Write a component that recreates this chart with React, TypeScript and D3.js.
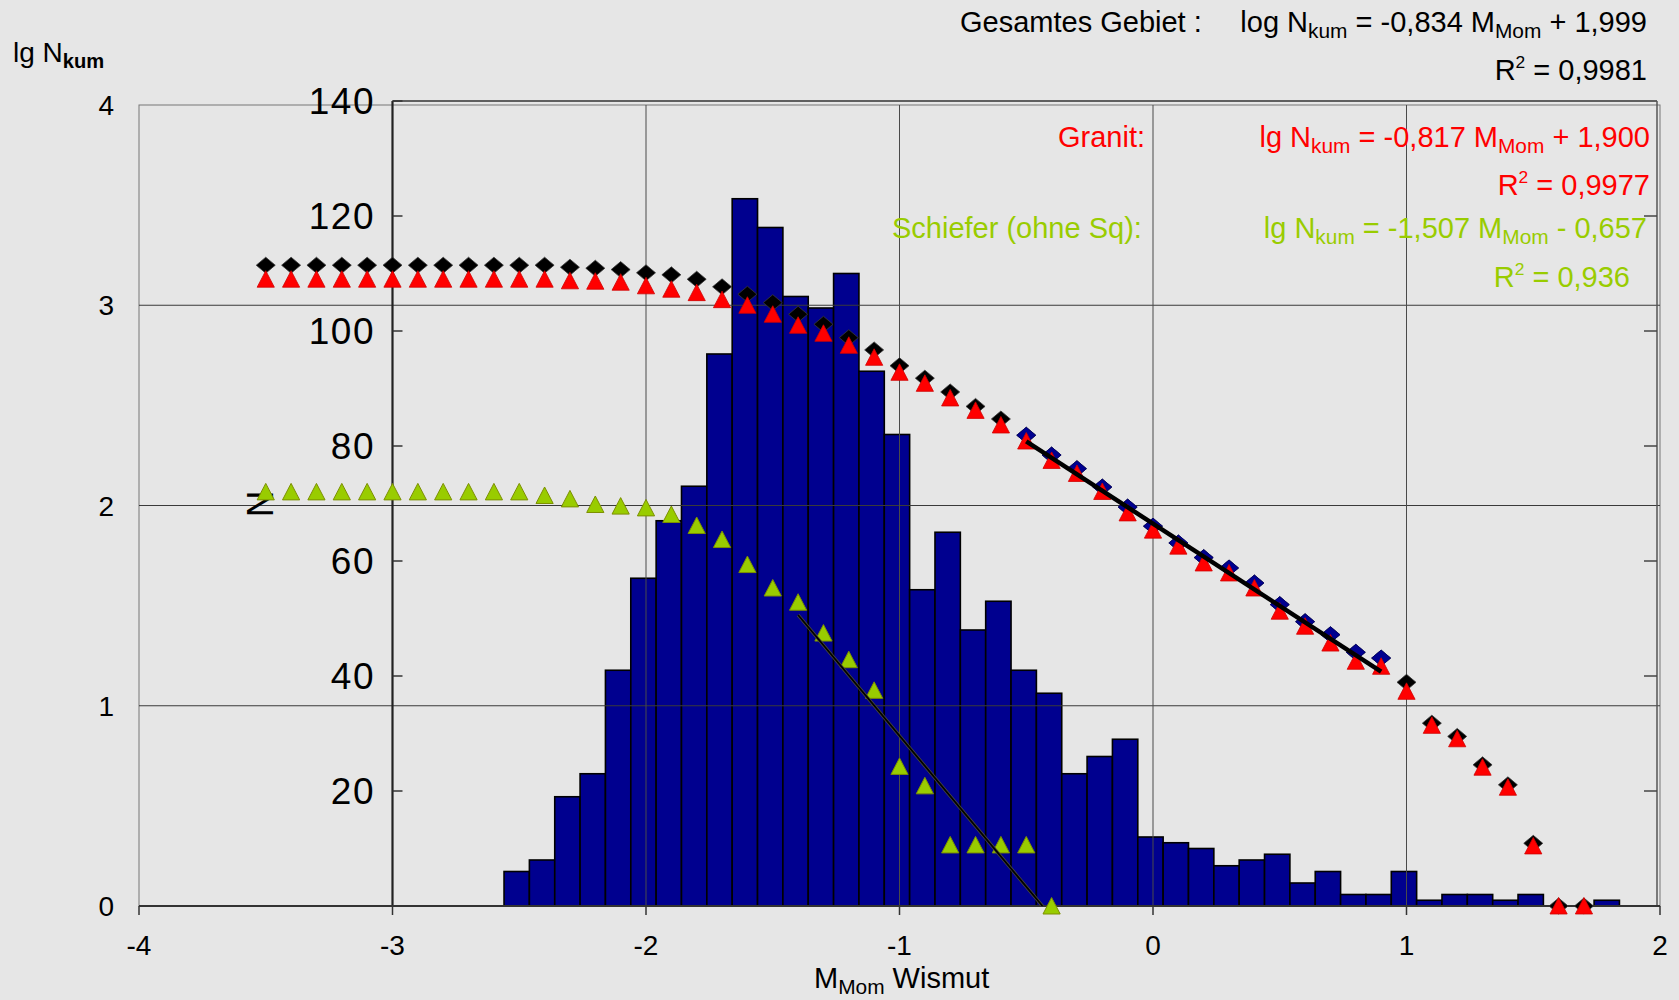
// Magnitude-frequency plot, Wismut: cumulative lg N (outer axis) over a histogram of N (inner axis)

import { useEffect, useRef } from "react";
import * as d3 from "d3";

const W = 1679;
const H = 1000;
const FONT = "'Liberation Sans', Arial, Helvetica, sans-serif";

// magnitude classes of the cumulative series
const magnitudes = [
  -3.5, -3.4, -3.3, -3.2, -3.1, -3.0, -2.9, -2.8, -2.7, -2.6, -2.5, -2.4, -2.3, -2.2, -2.1, -2.0, -1.9, -1.8,
  -1.7, -1.6, -1.5, -1.4, -1.3, -1.2, -1.1, -1.0, -0.9, -0.8, -0.7, -0.6, -0.5, -0.4, -0.3, -0.2, -0.1, 0.0,
  0.1, 0.2, 0.3, 0.4, 0.5, 0.6, 0.7, 0.8, 0.9, 1.0, 1.1, 1.2, 1.3, 1.4, 1.5, 1.6, 1.7,
];

// Gesamtes Gebiet (black diamonds)
const gesamtLg = [
  3.2, 3.2, 3.2, 3.2, 3.2, 3.2, 3.2, 3.2, 3.2, 3.2, 3.2,
  3.2, 3.19, 3.185, 3.178, 3.162, 3.152, 3.13, 3.092, 3.055, 3.013, 2.955, 2.905, 2.838, 2.777, 2.698,
  2.636, 2.567, 2.495, 2.432, 2.351, 2.252, 2.184, 2.092, 1.992,
  1.897, 1.813, 1.74, 1.688, 1.613, 1.505, 1.42, 1.355, 1.267, 1.238, 1.117, 0.913, 0.847, 0.705, 0.605,
  0.313, 0, 0,
];

// Granit (red triangles)
const granitLg = [
  3.13, 3.13, 3.13, 3.13, 3.13, 3.13, 3.13, 3.13, 3.13, 3.13, 3.13,
  3.13, 3.122, 3.12, 3.115, 3.097, 3.08, 3.063, 3.028, 3.0, 2.955, 2.9, 2.86, 2.8, 2.74, 2.665,
  2.61, 2.537, 2.475, 2.402, 2.322, 2.225, 2.16, 2.07, 1.963,
  1.877, 1.797, 1.713, 1.663, 1.588, 1.472, 1.397, 1.313, 1.222, 1.197, 1.072, 0.902, 0.835, 0.693, 0.593,
  0.3, 0, 0,
];

// Schiefer ohne Sq (green triangles)
const schieferMag = [
  -3.5, -3.4, -3.3, -3.2, -3.1, -3.0, -2.9, -2.8, -2.7, -2.6, -2.5, -2.4, -2.3, -2.2, -2.1, -2.0,
  -1.9, -1.8, -1.7, -1.6, -1.5, -1.4, -1.3, -1.2, -1.1, -1.0, -0.9, -0.8, -0.7, -0.6, -0.5, -0.4,
];
const schieferLg = [
  2.068, 2.068, 2.068, 2.068, 2.068, 2.068, 2.068, 2.068, 2.068, 2.068, 2.068,
  2.05, 2.033, 2.005, 1.997, 1.988, 1.955, 1.9, 1.83, 1.705, 1.588,
  1.517, 1.363, 1.23, 1.077, 0.697, 0.6, 0.305, 0.305, 0.305, 0.305, 0,
];

// range used for the regression of the whole area (blue diamonds)
const gesamtFitRange = [-0.5, 0.9];

// regression lines (end points)
const gesamtFitX = [-0.5, 0.9];
const gesamtFitY = [2.32, 1.17];
const schieferFitX = [-1.4, -0.436];
const schieferFitY = [1.453, 0];

// histogram of event counts per 0.1 magnitude class
const HIST_START = -2.56;
const HIST_BIN = 0.1;
const histCounts = [
  6, 8, 19, 23, 41, 57, 67, 73, 96, 123, 118, 106, 104, 110, 93, 82, 55, 65, 48, 53, 41, 37,
  23, 26, 29, 12, 11, 10, 7, 8, 9, 4, 6, 2, 2, 6, 1, 2, 2, 1, 2, 0, 0, 1,
];

const lgTicks = [0, 1, 2, 3, 4];
const nTicks = [20, 40, 60, 80, 100, 120, 140];
const magTicks = [-4, -3, -2, -1, 0, 1, 2];

type Part = [string, "n" | "sub" | "sup"];

export default function App() {
  const svgRef = useRef<SVGSVGElement>(null);

  useEffect(() => {
    if (!svgRef.current) return;
    const svg = d3.select(svgRef.current);
    svg.selectAll("*").remove();

    svg.append("rect").attr("width", W).attr("height", H).attr("fill", "#e6e6e6");

    const x = d3.scaleLinear().domain([-4, 2]).range([139, 1660]);
    const yLg = d3.scaleLinear().domain([0, 4]).range([906, 105]);
    const yN = d3.scaleLinear().domain([0, 140]).range([906, 101]);

    // outer frame
    svg.append("rect")
      .attr("x", x(-4)).attr("y", yLg(4))
      .attr("width", x(2) - x(-4)).attr("height", yLg(0) - yLg(4))
      .attr("fill", "none").attr("stroke", "#777").attr("stroke-width", 1);

    // histogram
    svg.append("g")
      .selectAll("rect")
      .data(histCounts)
      .join("rect")
      .attr("x", (_, i) => x(HIST_START + i * HIST_BIN))
      .attr("width", x(HIST_BIN) - x(0))
      .attr("y", (d) => yN(d))
      .attr("height", (d) => yN(0) - yN(d))
      .attr("fill", "#00008f")
      .attr("stroke", "#000")
      .attr("stroke-width", 1.6);

    // grid of the lg chart
    const grid = svg.append("g");
    [1, 2, 3].forEach((v) => {
      grid.append("line")
        .attr("x1", x(-4)).attr("x2", x(2)).attr("y1", yLg(v)).attr("y2", yLg(v))
        .attr("stroke", "#3a3a3a").attr("stroke-width", 1.2);
    });
    [-2, -1, 0, 1].forEach((v) => {
      grid.append("line")
        .attr("x1", x(v)).attr("x2", x(v)).attr("y1", yLg(4)).attr("y2", yLg(0))
        .attr("stroke", "#4a4a4a").attr("stroke-width", 1);
    });

    // inner (histogram) frame and ticks
    const inner = svg.append("g");
    const innerRight = 1657;
    inner.append("line")
      .attr("x1", x(-3)).attr("x2", x(-3)).attr("y1", yN(140)).attr("y2", yN(0))
      .attr("stroke", "#222").attr("stroke-width", 2.2);
    inner.append("line")
      .attr("x1", x(-3)).attr("x2", innerRight).attr("y1", yN(140)).attr("y2", yN(140))
      .attr("stroke", "#333").attr("stroke-width", 1.5);
    inner.append("line")
      .attr("x1", innerRight).attr("x2", innerRight).attr("y1", yN(140)).attr("y2", yN(0))
      .attr("stroke", "#555").attr("stroke-width", 1.5);
    nTicks.forEach((v) => {
      inner.append("line")
        .attr("x1", x(-3)).attr("x2", x(-3) + 10).attr("y1", yN(v)).attr("y2", yN(v))
        .attr("stroke", "#333").attr("stroke-width", 1.5);
      if (v < 140) {
        inner.append("line")
          .attr("x1", innerRight - 13).attr("x2", innerRight).attr("y1", yN(v)).attr("y2", yN(v))
          .attr("stroke", "#444").attr("stroke-width", 1.5);
      }
      inner.append("text")
        .attr("x", 375).attr("y", yN(v)).attr("dy", "0.36em")
        .attr("text-anchor", "end")
        .style("font-family", FONT).style("font-size", "37px").style("letter-spacing", "1.5px")
        .attr("fill", "#000")
        .text(v);
    });
    inner.append("text")
      .attr("transform", `translate(260,504) rotate(-90)`)
      .attr("text-anchor", "middle").attr("dy", "0.36em")
      .style("font-family", FONT).style("font-size", "37px")
      .text("N");

    // x axis
    const xAxis = svg.append("g");
    xAxis.append("line")
      .attr("x1", x(-4)).attr("x2", x(2)).attr("y1", yLg(0)).attr("y2", yLg(0))
      .attr("stroke", "#333").attr("stroke-width", 2);
    magTicks.forEach((v) => {
      xAxis.append("line")
        .attr("x1", x(v)).attr("x2", x(v)).attr("y1", yLg(0)).attr("y2", yLg(0) + 9)
        .attr("stroke", "#333").attr("stroke-width", 1.5);
      xAxis.append("text")
        .attr("x", x(v)).attr("y", 955)
        .attr("text-anchor", "middle")
        .style("font-family", FONT).style("font-size", "28px")
        .text(v);
    });

    // lg axis labels
    lgTicks.forEach((v) => {
      svg.append("text")
        .attr("x", 114).attr("y", yLg(v)).attr("dy", "0.36em")
        .attr("text-anchor", "end")
        .style("font-family", FONT).style("font-size", "28px")
        .text(v);
    });

    // markers
    const diamond = "M0,-8L9.5,0L0,8L-9.5,0Z";
    const triangle = "M0,-8.5L8.6,8L-8.6,8Z";

    const marks = svg.append("g");
    marks.selectAll("path.schiefer")
      .data(schieferMag)
      .join("path")
      .attr("class", "schiefer")
      .attr("d", triangle)
      .attr("transform", (d, i) => `translate(${x(d)},${yLg(schieferLg[i])})`)
      .attr("fill", "#99cc00").attr("stroke", "#7c8f00").attr("stroke-width", 1);

    marks.selectAll("path.gesamt")
      .data(magnitudes)
      .join("path")
      .attr("class", "gesamt")
      .attr("d", diamond)
      .attr("transform", (d, i) => `translate(${x(d)},${yLg(gesamtLg[i])})`)
      .attr("fill", "#000").attr("stroke", "#3a3a3a").attr("stroke-width", 0.8);

    const inFit = (m: number) => m >= gesamtFitRange[0] - 1e-9 && m <= gesamtFitRange[1] + 1e-9;
    marks.selectAll("path.fit")
      .data(magnitudes.map((m, i) => [m, gesamtLg[i]]).filter(([m]) => inFit(m)))
      .join("path")
      .attr("class", "fit")
      .attr("d", diamond)
      .attr("transform", (d) => `translate(${x(d[0])},${yLg(d[1])})`)
      .attr("fill", "#000090").attr("stroke", "#00006a").attr("stroke-width", 0.8);

    marks.selectAll("path.granit")
      .data(magnitudes)
      .join("path")
      .attr("class", "granit")
      .attr("d", triangle)
      .attr("transform", (d, i) => `translate(${x(d)},${yLg(granitLg[i])})`)
      .attr("fill", "#ff0000").attr("stroke", "#d00000").attr("stroke-width", 0.8);

    // regression lines
    const seg = (xs: number[], ys: number[]) =>
      d3.line<number>().x((d) => x(d)).y((_, i) => yLg(ys[i]))(xs) || "";
    svg.append("path").attr("d", seg(schieferFitX, schieferFitY))
      .attr("fill", "none").attr("stroke", "#4f4f3a").attr("stroke-width", 3.2);
    svg.append("path").attr("d", seg(schieferFitX, schieferFitY))
      .attr("fill", "none").attr("stroke", "#000").attr("stroke-width", 1.8);
    svg.append("path").attr("d", seg(gesamtFitX, gesamtFitY))
      .attr("fill", "none").attr("stroke", "#000").attr("stroke-width", 4.5);

    // rich text with sub / superscripts
    const rich = (
      px: number, py: number, parts: Part[], color: string, size: number,
      anchor = "start", subWeight = "normal"
    ) => {
      const t = svg.append("text")
        .attr("x", px).attr("y", py).attr("text-anchor", anchor)
        .attr("fill", color)
        .style("font-family", FONT).style("font-size", `${size}px`)
        .style("white-space", "pre");
      let cur = 0;
      parts.forEach(([s, kind]) => {
        const target = kind === "sub" ? size * 0.22 : kind === "sup" ? -size * 0.4 : 0;
        const fs = kind === "n" ? size : kind === "sub" ? size * 0.72 : size * 0.6;
        t.append("tspan")
          .attr("dy", target - cur)
          .style("font-size", `${fs}px`)
          .style("font-weight", kind === "sub" ? subWeight : "normal")
          .text(s);
        cur = target;
      });
    };

    const black = "#000";
    const red = "#ff0000";
    const green = "#99cc00";

    rich(960, 32, [["Gesamtes Gebiet :", "n"]], black, 29);
    rich(1647, 32, [["log N", "n"], ["kum", "sub"], [" = -0,834 M", "n"], ["Mom", "sub"], [" + 1,999", "n"]], black, 29, "end");
    rich(1647, 80, [["R", "n"], ["2", "sup"], [" = 0,9981", "n"]], black, 29, "end");

    rich(1058, 147, [["Granit:", "n"]], red, 29);
    rich(1650, 147, [["lg N", "n"], ["kum", "sub"], [" = -0,817 M", "n"], ["Mom", "sub"], [" + 1,900", "n"]], red, 29, "end");
    rich(1650, 195, [["R", "n"], ["2", "sup"], [" = 0,9977", "n"]], red, 29, "end");

    rich(892, 238, [["Schiefer (ohne Sq):", "n"]], green, 29);
    rich(1647, 238, [["lg N", "n"], ["kum", "sub"], [" = -1,507 M", "n"], ["Mom", "sub"], [" - 0,657", "n"]], green, 29, "end");
    rich(1630, 287, [["R", "n"], ["2", "sup"], [" = 0,936", "n"]], green, 29, "end");

    rich(13, 62, [["lg N", "n"], ["kum", "sub"]], black, 28, "start", "bold");
    rich(814, 988, [["M", "n"], ["Mom", "sub"], [" Wismut", "n"]], black, 29);
  }, []);

  return (
    <div style={{ position: "absolute", left: 0, top: 0 }}>
      <svg ref={svgRef} width={W} height={H} style={{ display: "block" }} />
    </div>
  );
}
